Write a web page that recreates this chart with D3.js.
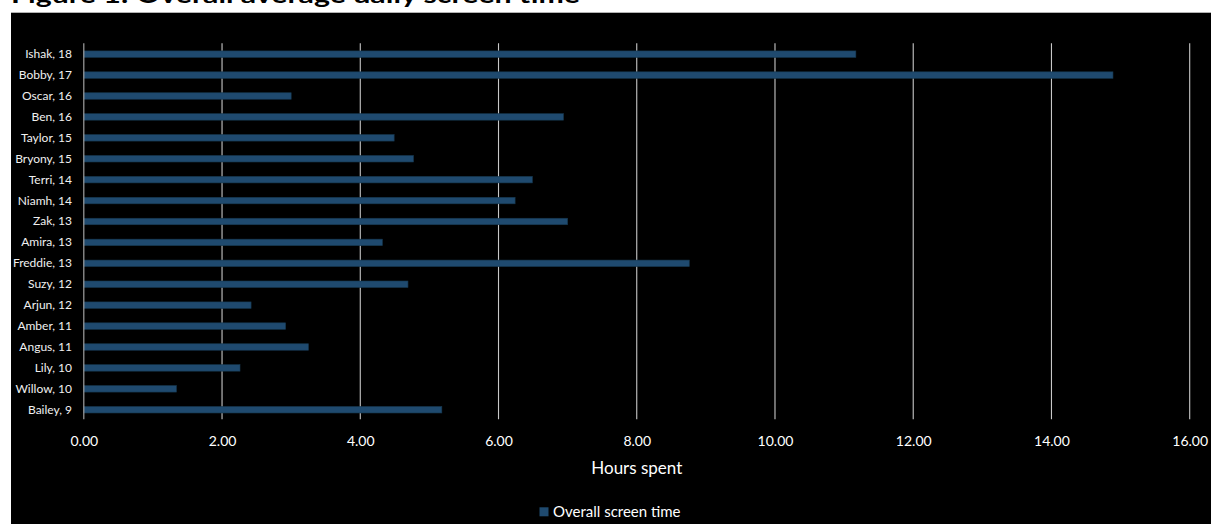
<!DOCTYPE html>
<html>
<head>
<meta charset="utf-8">
<script src="https://cdn.jsdelivr.net/npm/d3@7"></script>
<style>
  html, body { margin: 0; padding: 0; background: #ffffff; }
  svg { display: block; }
  text { font-family: Lato, "Open Sans", sans-serif; }
</style>
</head>
<body>
<svg id="chart" width="1211" height="524"></svg>
<script>
// ---- data ----
const categories = ["Ishak, 18","Bobby, 17","Oscar, 16","Ben, 16","Taylor, 15","Bryony, 15","Terri, 14","Niamh, 14","Zak, 13","Amira, 13","Freddie, 13","Suzy, 12","Arjun, 12","Amber, 11","Angus, 11","Lily, 10","Willow, 10","Bailey, 9"];
const screenTime = [11.17, 14.89, 3.00, 6.94, 4.49, 4.77, 6.49, 6.24, 7.00, 4.32, 8.76, 4.69, 2.42, 2.92, 3.25, 2.26, 1.34, 5.18];
const xTicks = [0, 2, 4, 6, 8, 10, 12, 14, 16];
const seriesName = "Overall screen time";
const titleText = "Figure 1: Overall average daily screen time";
const xAxisTitle = "Hours spent";

// ---- layout ----
const W = 1211, H = 524;
const svg = d3.select("#chart");
const plot = { left: 83.8, right: 1189.7, top: 43.7, bottom: 420.2 };
const barColor = "#1f4a6f";

// background: white page with black chart area (title is cropped at top, as in the source)
svg.append("rect").attr("x", 0).attr("y", 0).attr("width", W).attr("height", H).attr("fill", "#ffffff");
svg.append("text")
  .attr("x", 11).attr("y", 3)
  .attr("font-weight", "bold")
  .attr("font-size", 22)
  .attr("fill", "#000")
  .attr("textLength", 569)
  .attr("lengthAdjust", "spacingAndGlyphs")
  .text(titleText);
svg.append("rect").attr("x", 11).attr("y", 12.7).attr("width", W - 11).attr("height", H - 12.7).attr("fill", "#000000");

const x = d3.scaleLinear().domain([0, 16]).range([plot.left, plot.right]);
const y = d3.scaleBand().domain(categories).range([plot.top, plot.bottom]).paddingInner(0.69).paddingOuter(0.345);

// gridlines
svg.append("g")
  .selectAll("line")
  .data(xTicks.slice(1))
  .join("line")
  .attr("x1", d => x(d)).attr("x2", d => x(d))
  .attr("y1", plot.top - 0.5).attr("y2", plot.bottom - 1)
  .attr("stroke", "#c8c8c8").attr("stroke-width", 1.1);

// x tick labels
const xAxis = d3.axisBottom(x).tickValues(xTicks).tickFormat(d3.format(".2f")).tickSize(0).tickPadding(0);
const gx = svg.append("g").attr("transform", `translate(0,${plot.bottom + 15})`).call(xAxis);
gx.select(".domain").remove();
gx.selectAll("text").attr("fill", "#ffffff").attr("font-size", 14).attr("font-family", "Lato, sans-serif").attr("dy", "0.75em");

// bars
svg.append("g")
  .selectAll("rect")
  .data(categories)
  .join("rect")
  .attr("x", x(0))
  .attr("y", d => y(d))
  .attr("width", (d, i) => x(screenTime[i]) - x(0))
  .attr("height", y.bandwidth())
  .attr("fill", barColor)
  .attr("stroke", "#17384f")
  .attr("stroke-width", 0.6);

// y axis line
svg.append("line")
  .attr("x1", x(0)).attr("x2", x(0))
  .attr("y1", plot.top - 0.5).attr("y2", plot.bottom - 1)
  .attr("stroke", "#a0a0a0").attr("stroke-width", 1.2);

// y labels
const yAxis = d3.axisLeft(y).tickSize(0).tickPadding(0);
const gy = svg.append("g").attr("transform", `translate(72,0)`).call(yAxis);
gy.select(".domain").remove();
gy.selectAll("text").attr("fill", "#f0f0f0").attr("font-size", 12).attr("font-family", "Lato, sans-serif").attr("dy", "0.33em");

// axis title
svg.append("text")
  .attr("x", 636.8).attr("y", 474)
  .attr("text-anchor", "middle")
  .attr("font-size", 17)
  .attr("fill", "#ffffff")
  .text(xAxisTitle);

// legend
const lg = svg.append("g");
lg.append("rect").attr("x", 539.5).attr("y", 507.3).attr("width", 9).attr("height", 9).attr("fill", barColor);
lg.append("text").attr("x", 553).attr("y", 516.7).attr("font-size", 15).attr("fill", "#ffffff").text(seriesName);
</script>
</body>
</html>
